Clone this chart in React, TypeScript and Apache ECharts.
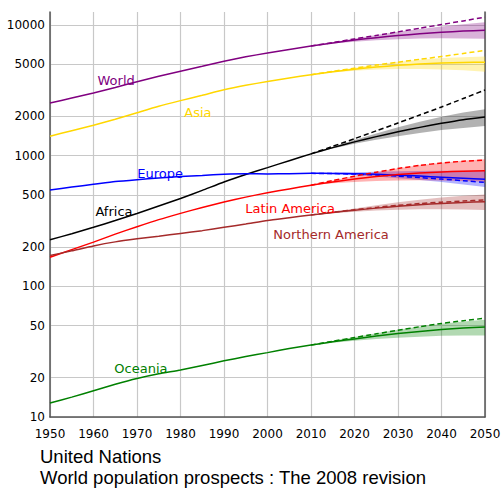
import React, { useEffect, useRef } from "react";
import * as echarts from "echarts";

const histYears = [1950, 1955, 1960, 1965, 1970, 1975, 1980, 1985, 1990, 1995, 2000, 2005, 2010];
const projYears = [2010, 2015, 2020, 2025, 2030, 2035, 2040, 2045, 2050];
const yTickValues = [10, 20, 50, 100, 200, 500, 1000, 2000, 5000, 10000];

const regionNames = ["World", "Asia", "Africa", "Europe", "Latin America", "Northern America", "Oceania"];
const regionColors = ["#800080", "#ffd700", "#000000", "#0000ff", "#ff0000", "#a52a2a", "#008000"];

// Estimates (people, millions)
const worldHist = [2529, 2763, 3023, 3332, 3686, 4061, 4438, 4846, 5290, 5713, 6115, 6512, 6909];
const worldMedium = [6909, 7302, 7675, 8012, 8309, 8571, 8801, 8996, 9120];
const worldHigh = [6909, 7390, 7900, 8390, 8870, 9330, 9760, 10140, 10500];
const worldLow = [6909, 7220, 7460, 7650, 7790, 7880, 7920, 7900, 7850];
const worldConst = [6909, 7350, 7830, 8330, 8870, 9460, 10090, 10760, 11500];

const asiaHist = [1411, 1553, 1708, 1901, 2135, 2393, 2641, 2902, 3199, 3459, 3698, 3937, 4166];
const asiaMedium = [4166, 4389, 4596, 4773, 4917, 5032, 5125, 5180, 5200];
const asiaHigh = [4166, 4440, 4720, 4990, 5230, 5430, 5590, 5680, 5750];
const asiaLow = [4166, 4340, 4470, 4560, 4600, 4610, 4570, 4500, 4400];
const asiaConst = [4166, 4420, 4680, 4940, 5200, 5470, 5750, 6060, 6400];

const africaHist = [227, 253, 283, 319, 361, 412, 470, 543, 630, 719, 811, 916, 1033];
const africaMedium = [1033, 1153, 1276, 1400, 1524, 1648, 1770, 1887, 1980];
const africaHigh = [1033, 1170, 1320, 1480, 1650, 1820, 1990, 2140, 2270];
const africaLow = [1033, 1135, 1235, 1325, 1410, 1490, 1570, 1630, 1690];
const africaConst = [1033, 1180, 1350, 1550, 1780, 2050, 2360, 2740, 3180];

const europeHist = [547, 576, 604, 634, 656, 676, 693, 707, 721, 727, 726, 729, 733];
const europeMedium = [733, 732, 728, 720, 710, 698, 685, 672, 660];
const europeHigh = [733, 740, 748, 755, 760, 764, 767, 768, 770];
const europeLow = [733, 724, 710, 692, 672, 651, 628, 601, 575];
const europeConst = [733, 730, 723, 712, 697, 680, 662, 644, 625];

const latamHist = [167, 191, 218, 251, 286, 324, 362, 402, 442, 482, 521, 557, 595];
const latamMedium = [595, 630, 664, 694, 719, 738, 752, 760, 767];
const latamHigh = [595, 645, 700, 750, 800, 845, 885, 915, 940];
const latamLow = [595, 615, 630, 640, 645, 648, 645, 640, 632];
const latamConst = [595, 645, 697, 748, 798, 843, 880, 907, 927];

const namHist = [172, 187, 204, 219, 231, 242, 254, 267, 283, 300, 319, 335, 352];
const namMedium = [352, 367, 383, 397, 410, 421, 431, 439, 445];
const namHigh = [352, 372, 395, 418, 440, 460, 478, 493, 505];
const namLow = [352, 362, 372, 380, 386, 389, 390, 388, 384];
const namConst = [352, 369, 386, 402, 417, 430, 441, 450, 458];

const oceaniaHist = [12.8, 14.2, 15.9, 17.8, 19.7, 21.4, 22.9, 24.8, 26.9, 29.0, 31.1, 33.4, 35.5];
const oceaniaMedium = [35.5, 37.6, 39.6, 41.6, 43.5, 45.2, 46.8, 48.0, 48.8];
const oceaniaHigh = [35.5, 38.2, 41.0, 43.8, 46.6, 49.3, 51.8, 53.9, 55.5];
const oceaniaLow = [35.5, 37.0, 38.3, 39.5, 40.5, 41.2, 41.8, 42.0, 42.0];
const oceaniaConst = [35.5, 38.0, 40.6, 43.3, 46.2, 49.1, 52.0, 54.6, 57.0];

const hist = [worldHist, asiaHist, africaHist, europeHist, latamHist, namHist, oceaniaHist];
const medium = [worldMedium, asiaMedium, africaMedium, europeMedium, latamMedium, namMedium, oceaniaMedium];
const high = [worldHigh, asiaHigh, africaHigh, europeHigh, latamHigh, namHigh, oceaniaHigh];
const low = [worldLow, asiaLow, africaLow, europeLow, latamLow, namLow, oceaniaLow];
const constant = [worldConst, asiaConst, africaConst, europeConst, latamConst, namConst, oceaniaConst];

// label anchors [year, value]
const labelAnchors: [number, number][] = [
  [1965.2, 3790],
  [1984.0, 2160],
  [1964.7, 371],
  [1975.3, 736],
  [2005.2, 397],
  [2014.6, 251],
  [1970.9, 23.7],
];

const lg = (v: number) => Math.log10(v);
const AXIS_FONT = "DejaVu Sans, sans-serif";
const NOTE_FONT = "Liberation Sans, Arial, sans-serif";

export default function App() {
  const ref = useRef<HTMLDivElement>(null);
  useEffect(() => {
    if (!ref.current) return;
    const chart = echarts.init(ref.current, null, { renderer: "svg" });
    const series: any[] = [];
    regionNames.forEach((name, i) => {
      const color = regionColors[i];
      const bandData = projYears.map((y, k) => [y, lg(low[i][k]), lg(high[i][k])]);
      series.push({
        type: "custom",
        name: name + " range",
        silent: true,
        z: 1,
        encode: { x: 0, y: [1, 2] },
        data: bandData,
        renderItem: (params: any, api: any) => {
          if (params.dataIndex !== 0) return null;
          const upper = bandData.map((d) => api.coord([d[0], d[2]]));
          const lower = bandData.map((d) => api.coord([d[0], d[1]])).reverse();
          return {
            type: "polygon",
            shape: { points: upper.concat(lower) },
            style: { fill: color, opacity: 0.3 },
          };
        },
      });
    });
    regionNames.forEach((name, i) => {
      const color = regionColors[i];
      const solid = [
        ...histYears.map((y, k) => [y, lg(hist[i][k])]),
        ...projYears.slice(1).map((y, k) => [y, lg(medium[i][k + 1])]),
      ];
      series.push({
        type: "line",
        name,
        data: solid,
        showSymbol: false,
        symbol: "none",
        smooth: 0.2,
        lineStyle: { color, width: 1.5 },
        z: 3,
        markPoint: {
          symbol: "circle",
          symbolSize: 0,
          silent: true,
          data: [{ coord: [labelAnchors[i][0], lg(labelAnchors[i][1])] }],
          label: {
            show: true,
            position: "inside",
            formatter: name,
            color,
            fontSize: 13,
            fontFamily: AXIS_FONT,
          },
        },
      });
      series.push({
        type: "line",
        name: name + " constant",
        data: projYears.map((y, k) => [y, lg(constant[i][k])]),
        showSymbol: false,
        symbol: "none",
        smooth: 0.2,
        lineStyle: { color, width: 1.5, type: [5, 3] },
        z: 3,
      });
    });

    chart.setOption({
      animation: false,
      backgroundColor: "#ffffff",
      grid: { left: 50, right: 19, top: 12, bottom: 71 },
      xAxis: {
        type: "value",
        min: 1950,
        max: 2050,
        interval: 10,
        axisLine: { show: true, lineStyle: { color: "#555", width: 1.5 } },
        axisTick: { show: false },
        axisLabel: {
          color: "#000",
          fontSize: 12,
          fontFamily: AXIS_FONT,
          margin: 11,
          formatter: (v: number) => String(v),
        },
        splitLine: { show: true, lineStyle: { color: "#c8c8c8", width: 1.2 } },
      },
      yAxis: [
        {
          type: "value",
          min: 1,
          max: 4.1,
          axisLine: { show: true, lineStyle: { color: "#555", width: 1.5 } },
          axisTick: { show: false, customValues: yTickValues.map(lg) },
          axisLabel: {
            customValues: yTickValues.map(lg),
            color: "#000",
            fontSize: 12,
            fontFamily: AXIS_FONT,
            margin: 5,
            formatter: (v: number) => String(Math.round(Math.pow(10, v))),
          },
          splitLine: { show: true, lineStyle: { color: "#c8c8c8", width: 1.2 } },
        },
        {
          type: "value",
          position: "right",
          min: 1,
          max: 4.1,
          axisLine: { show: true, lineStyle: { color: "#555", width: 1.5 } },
          axisTick: { show: false },
          axisLabel: { show: false },
          splitLine: { show: false },
        },
      ],
      graphic: [
        {
          type: "text",
          left: 40,
          top: 447,
          style: { text: "United Nations", fontSize: 18.5, fontFamily: NOTE_FONT, fill: "#000" },
        },
        {
          type: "text",
          left: 40,
          top: 468,
          style: {
            text: "World population prospects : The 2008 revision",
            fontSize: 18.5,
            fontFamily: NOTE_FONT,
            fill: "#000",
          },
        },
      ],
      series,
    });
    return () => chart.dispose();
  }, []);
  return (
    <div
      ref={ref}
      style={{ position: "absolute", left: 0, top: 0, width: 504, height: 488, background: "#fff" }}
    />
  );
}
